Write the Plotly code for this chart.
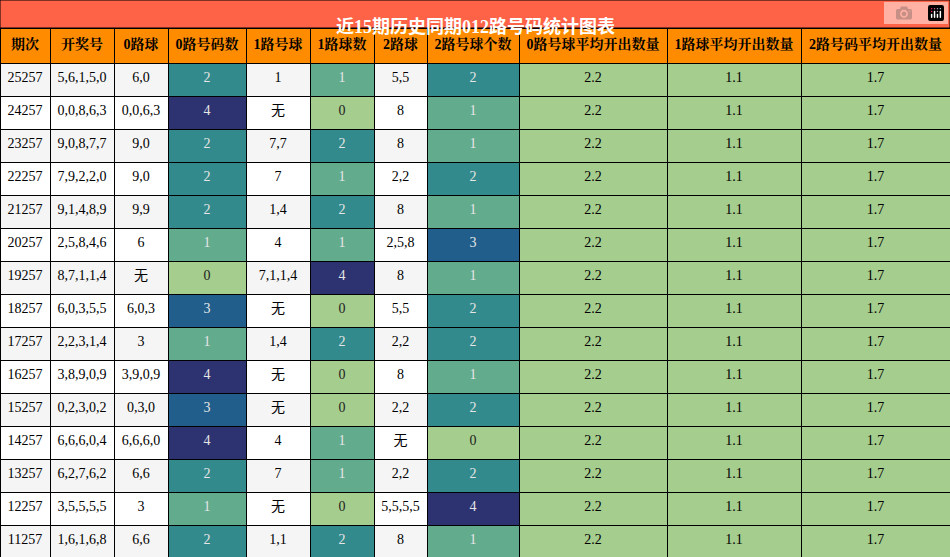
import plotly.graph_objects as go

title = "近15期历史同期012路号码统计图表"
headers = ["期次","开奖号","0路球","0路号码数","1路号球","1路球数","2路球","2路号球个数","0路号球平均开出数量","1路球平均开出数量","2路号码平均开出数量"]
periods = ["25257","24257","23257","22257","21257","20257","19257","18257","17257","16257","15257","14257","13257","12257","11257"]
draws = ["5,6,1,5,0","0,0,8,6,3","9,0,8,7,7","7,9,2,2,0","9,1,4,8,9","2,5,8,4,6","8,7,1,1,4","6,0,3,5,5","2,2,3,1,4","3,8,9,0,9","0,2,3,0,2","6,6,6,0,4","6,2,7,6,2","3,5,5,5,5","1,6,1,6,8"]
r0_balls = ["6,0","0,0,6,3","9,0","9,0","9,9","6","无","6,0,3","3","3,9,0,9","0,3,0","6,6,6,0","6,6","3","6,6"]
r0_count = [2,4,2,2,2,1,0,3,1,4,3,4,2,1,2]
r1_balls = ["1","无","7,7","7","1,4","4","7,1,1,4","无","1,4","无","无","4","7","无","1,1"]
r1_count = [1,0,2,1,2,1,4,0,2,0,0,1,1,0,2]
r2_balls = ["5,5","8","8","2,2","8","2,5,8","8","5,5","2,2","8","2,2","无","2,2","5,5,5,5","8"]
r2_count = [2,1,1,2,1,3,1,2,2,1,2,0,2,4,1]
avg0 = ["2.2"]*15
avg1 = ["1.1"]*15
avg2 = ["1.7"]*15

palette = {0:"#a5cd8e",1:"#62ab8d",2:"#338a8c",3:"#225e8b",4:"#2d3270"}
n = len(periods)
base = ["#f5f5f5" if i % 2 == 0 else "#ffffff" for i in range(n)]
def cfill(v): return [palette[x] for x in v]
def cfont(v): return ["#222222" if x == 0 else "#e6e6e6" for x in v]
green = ["#a5cd8e"]*n
black = ["#000000"]*n

cols = [periods, draws, r0_balls, r0_count, r1_balls, r1_count, r2_balls, r2_count, avg0, avg1, avg2]
fills = [base, base, base, cfill(r0_count), base, cfill(r1_count), base, cfill(r2_count), green, green, green]
fonts = [black, black, black, cfont(r0_count), black, cfont(r1_count), black, cfont(r2_count), black, black, black]
widths = [50,64,54,78,64,64,53,92,148,134,149]

fig = go.Figure(go.Table(
    columnwidth=widths,
    domain=dict(x=[0,1], y=[0,1-28/557]),
    header=dict(values=["<b>%s</b>" % h for h in headers], fill_color="#ff8c00",
                line_color="#000000", line_width=1, height=35,
                font=dict(family="Liberation Serif, Noto Serif CJK SC, serif", size=14, color="#000000"),
                align="center"),
    cells=dict(values=cols, fill_color=fills, line_color="#000000", line_width=1, height=33,
               font=dict(family="Liberation Serif, Noto Sans CJK SC, serif", size=14, color=fonts),
               align="center"),
))
fig.add_shape(type="rect", xref="paper", yref="paper", x0=0, x1=1, y0=1-28/557, y1=1,
              fillcolor="#ff6347", line=dict(color="#000000", width=1), layer="below")
fig.add_annotation(text="<b>%s</b>" % title, xref="paper", yref="paper", x=0.5, y=1-14/557,
                   showarrow=False, font=dict(family="Liberation Serif, Noto Sans CJK SC, serif", size=18, color="#ffffff"))
fig.update_layout(width=950, height=557, margin=dict(l=0, r=0, t=0, b=0), paper_bgcolor="#ffffff")
fig.write_html("out.html")

with open("out.html", encoding="utf-8") as f:
    html = f.read()
html = html.replace("<body>", '<body style="margin:0;overflow:hidden">', 1)
with open("out.html", "w", encoding="utf-8") as f:
    f.write(html)
